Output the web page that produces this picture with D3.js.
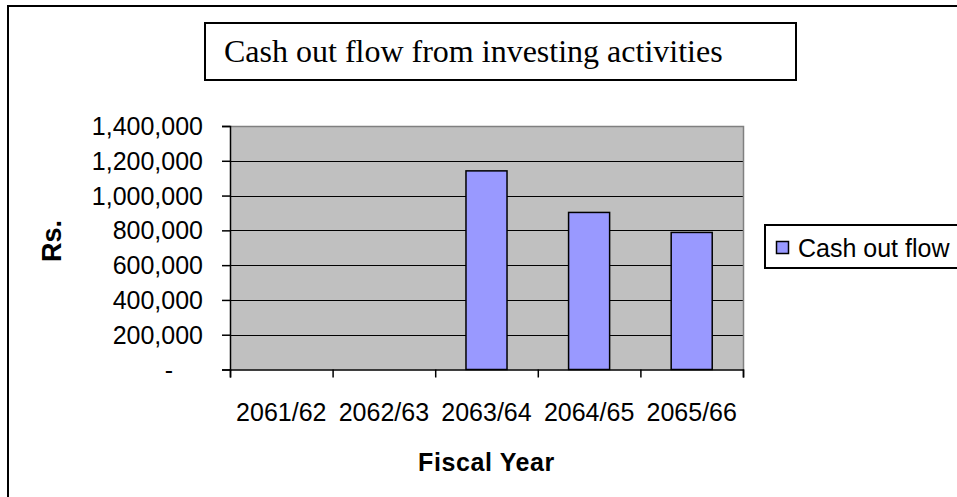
<!DOCTYPE html>
<html>
<head>
<meta charset="utf-8">
<script src="https://cdn.jsdelivr.net/npm/d3@7"></script>
<style>
  html, body { margin: 0; padding: 0; background: #fff; }
  svg { display: block; }
</style>
</head>
<body>
<svg id="chart" width="957" height="497"></svg>
<script>
// Fiscal years and yearly cash outflow from investing activities (Rs.)
const fiscalYears = ["2061/62", "2062/63", "2063/64", "2064/65", "2065/66"];
const cashOutflow = [0, 0, 1142000, 903000, 788000];
const yTickValues = [0, 200000, 400000, 600000, 800000, 1000000, 1200000, 1400000];
const seriesName = "Cash out flow";
const chartTitle = "Cash out flow from investing activities";
const xTitle = "Fiscal Year";
const yTitle = "Rs.";

const svg = d3.select("#chart");
const SANS = "'Liberation Sans', Arial, sans-serif";
const SERIF = "'Liberation Serif', 'Times New Roman', serif";

const plot = { left: 230, right: 743, top: 126, bottom: 369.5 };

// outer chart frame (runs off the right and bottom of the page)
svg.append("rect")
  .attr("x", 8).attr("y", 6).attr("width", 1000).attr("height", 600)
  .attr("fill", "#fff").attr("stroke", "#000").attr("stroke-width", 2);

const x = d3.scaleBand().domain(fiscalYears).range([plot.left, plot.right]).padding(0);
const y = d3.scaleLinear().domain([0, 1400000]).range([plot.bottom, plot.top]);

// plot area background
svg.append("rect")
  .attr("x", plot.left).attr("y", plot.top)
  .attr("width", plot.right - plot.left).attr("height", plot.bottom - plot.top)
  .attr("fill", "#c0c0c0");

// horizontal gridlines
svg.append("g").selectAll("line")
  .data(yTickValues.filter(v => v > 0 && v < 1400000))
  .join("line")
  .attr("x1", plot.left).attr("x2", plot.right)
  .attr("y1", d => Math.round(y(d)) + 0.5).attr("y2", d => Math.round(y(d)) + 0.5)
  .attr("stroke", "#000").attr("stroke-width", 1);

// plot area border: top and right in grey
svg.append("path")
  .attr("d", `M${plot.left},${plot.top + 0.5}H${plot.right + 0.5}V${plot.bottom}`)
  .attr("fill", "none").attr("stroke", "#808080").attr("stroke-width", 1.5);

// bars
const barW = x.bandwidth() * 0.4;
svg.append("g").selectAll("rect")
  .data(fiscalYears.map((k, i) => ({ k, v: cashOutflow[i] })).filter(d => d.v > 0))
  .join("rect")
  .attr("x", d => x(d.k) + (x.bandwidth() - barW) / 2)
  .attr("y", d => y(d.v))
  .attr("width", barW)
  .attr("height", d => y(0) - y(d.v))
  .attr("fill", "#9999ff").attr("stroke", "#000").attr("stroke-width", 1.5);

// y axis
const yAxis = d3.axisLeft(y).tickValues(yTickValues).tickSize(8).tickFormat("");
const gy = svg.append("g").attr("transform", `translate(${plot.left},0)`).call(yAxis);
gy.select(".domain").attr("stroke", "#000").attr("stroke-width", 1.5);
gy.selectAll(".tick line").attr("stroke", "#000").attr("stroke-width", 1.5);

// x axis: ticks at the category boundaries
const xb = d3.scaleLinear().domain([0, fiscalYears.length]).range([plot.left, plot.right]);
const xAxis = d3.axisBottom(xb).tickValues(d3.range(fiscalYears.length + 1)).tickSize(8).tickFormat("");
const gx = svg.append("g").attr("transform", `translate(0,${plot.bottom})`).call(xAxis);
gx.select(".domain").attr("stroke", "#000").attr("stroke-width", 1.5);
gx.selectAll(".tick line").attr("stroke", "#000").attr("stroke-width", 1.5);

function label(px, py, txt, opts) {
  const o = Object.assign({ size: 25, family: SANS, weight: "normal", anchor: "start", rotate: 0, dy: null, spacing: 0 }, opts);
  const t = svg.append("text")
    .attr("transform", `translate(${px},${py})` + (o.rotate ? ` rotate(${o.rotate})` : ""))
    .attr("font-family", o.family).attr("font-size", o.size).attr("font-weight", o.weight)
    .attr("text-anchor", o.anchor).attr("fill", "#000")
    .attr("letter-spacing", o.spacing)
    .text(txt);
  if (o.dy) t.attr("dy", o.dy);
  return t;
}

// y tick labels (zero shown as an accounting dash)
const fmt = d3.format(",");
yTickValues.forEach(v => {
  const txt = v === 0 ? "-" : fmt(v);
  const right = v === 0 ? 173 : 203;
  label(right, y(v) + 9, txt, { anchor: "end" });
});

// x tick labels
fiscalYears.forEach(k => {
  label(x(k) + x.bandwidth() / 2, 421, k, { anchor: "middle" });
});

// axis titles
label((plot.left + plot.right) / 2, 471, xTitle, { anchor: "middle", weight: "bold", size: 25, spacing: 0.6 });
label(51, 241, yTitle, { anchor: "middle", weight: "bold", size: 27, rotate: -90, dy: "0.36em" });

// chart title box
svg.append("rect").attr("x", 205).attr("y", 23).attr("width", 591).attr("height", 57)
  .attr("fill", "#fff").attr("stroke", "#000").attr("stroke-width", 2);
label(224, 62, chartTitle, { family: SERIF, size: 32 });

// legend
svg.append("rect").attr("x", 765).attr("y", 225).attr("width", 300).attr("height", 43)
  .attr("fill", "#fff").attr("stroke", "#000").attr("stroke-width", 2);
svg.append("rect").attr("x", 776.5).attr("y", 241.5).attr("width", 12).attr("height", 12)
  .attr("fill", "#9999ff").attr("stroke", "#000").attr("stroke-width", 1.5);
label(798, 257, seriesName, {});
</script>
</body>
</html>
